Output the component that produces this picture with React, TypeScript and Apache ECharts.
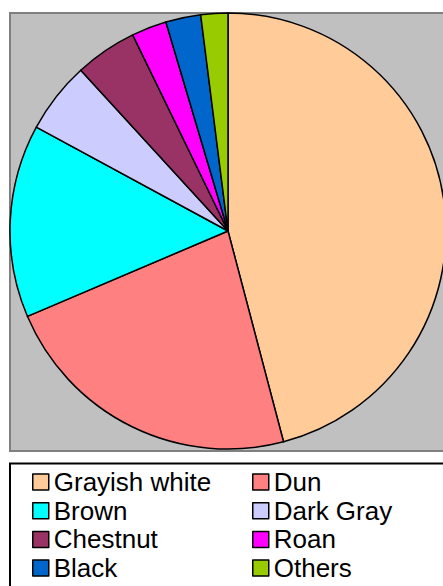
import React, { useEffect, useRef } from "react";
import * as echarts from "echarts";

const categories = ["Grayish white", "Dun", "Brown", "Dark Gray", "Chestnut", "Roan", "Black", "Others"];
const values = [45.9, 22.7, 14.3, 5.3, 4.6, 2.6, 2.6, 2.0];
const colors = ["#FFCC99", "#FF8080", "#00FFFF", "#CCCCFF", "#993366", "#FF00FF", "#0066CC", "#99CC00"];
const leftLegend = ["Grayish white", "Brown", "Chestnut", "Black"];
const rightLegend = ["Dun", "Dark Gray", "Roan", "Others"];

export default function App() {
  const ref = useRef<HTMLDivElement>(null);
  useEffect(() => {
    const chart = echarts.init(ref.current!, undefined, { renderer: "svg" });
    const legendCommon = {
      orient: "vertical",
      top: 469,
      padding: 0,
      itemGap: 2.7,
      itemWidth: 16,
      itemHeight: 16,
      icon: "rect",
      itemStyle: { borderColor: "#000", borderWidth: 1.5 },
      textStyle: { fontFamily: "Liberation Sans", fontSize: 26, lineHeight: 26, color: "#000" },
    };
    chart.setOption({
      animation: false,
      backgroundColor: "#fff",
      graphic: [
        {
          type: "rect",
          z: -10,
          shape: { x: 10, y: 13, width: 450, height: 438 },
          style: { fill: "#C0C0C0", stroke: "#808080", lineWidth: 2 },
        },
        {
          type: "rect",
          z: -10,
          shape: { x: 10, y: 463.5, width: 450, height: 140 },
          style: { fill: "#fff", stroke: "#000", lineWidth: 2 },
        },
      ],
      legend: [
        { ...legendCommon, left: 32, data: leftLegend },
        { ...legendCommon, left: 252, data: rightLegend },
      ],
      series: [
        {
          type: "pie",
          center: [228, 231],
          radius: 218,
          startAngle: 90,
          clockwise: true,
          label: { show: false },
          labelLine: { show: false },
          emphasis: { disabled: true },
          itemStyle: { borderColor: "#000", borderWidth: 1.5 },
          data: categories.map((name, i) => ({ name, value: values[i], itemStyle: { color: colors[i] } })),
        },
      ],
    });
    return () => chart.dispose();
  }, []);
  return <div ref={ref} style={{ position: "fixed", left: 0, top: 0, width: 443, height: 586 }} />;
}
